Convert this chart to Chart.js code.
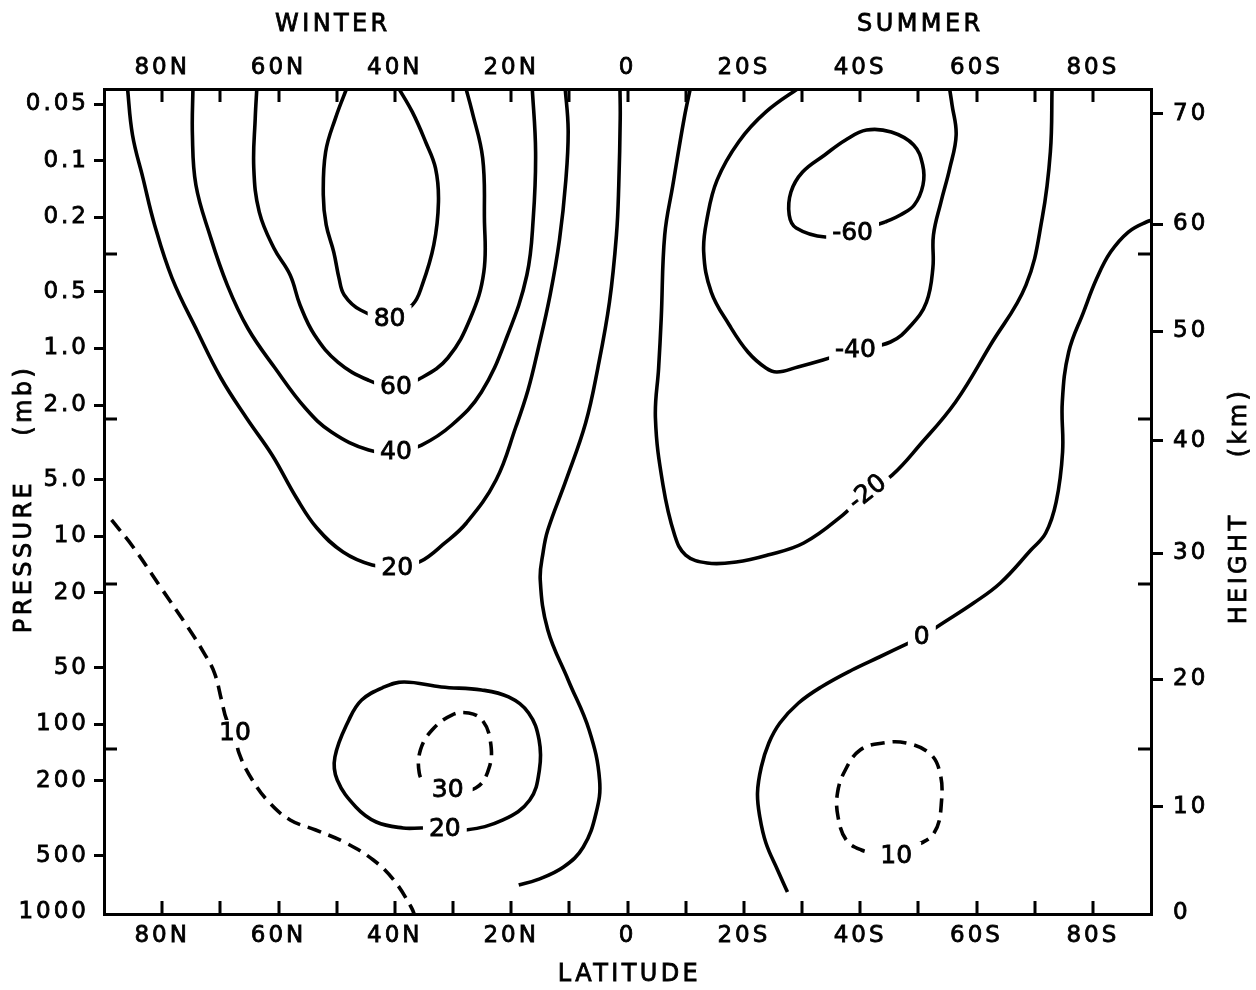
<!DOCTYPE html>
<html lang="en">
<head>
<meta charset="utf-8">
<title>Zonal mean wind: latitude–height section</title>
<script src="https://cdn.jsdelivr.net/npm/chart.js@4.4.1/dist/chart.umd.min.js"></script>
<style>
  html, body { margin: 0; padding: 0; background: #fff; }
  canvas { display: block; }
</style>
</head>
<body>
<canvas id="chart" width="1256" height="990"></canvas>
<script>
// ---- axis ticks ----
const latTicks = [80, 60, 40, 20, 0, -20, -40, -60, -80];
const latTickLabels = ['80N', '60N', '40N', '20N', '0', '20S', '40S', '60S', '80S'];
const latMinorTicks = [80, 70, 60, 50, 40, 30, 20, 10, 0, -10, -20, -30, -40, -50, -60, -70, -80];
const pressureTicks = [0.05, 0.1, 0.2, 0.5, 1, 2, 5, 10, 20, 50, 100, 200, 500, 1000];
const pressureTickLabels = ['0.05', '0.1', '0.2', '0.5', '1.0', '2.0', '5.0', '10', '20', '50', '100', '200', '500', '1000'];
const heightKm = [0, 10, 20, 30, 40, 50, 60, 70];
const heightPressure = [1013, 275, 57.5, 12.3, 3.10, 0.81, 0.218, 0.0565];
const seasonNames = ['WINTER', 'SUMMER'];
const seasonLat = [51, -50];

// ---- isotachs of zonal wind (m/s); points are [latitude (N > 0), pressure (mb)] ----
const winter80 = [[48.1,0.04],[50.2,0.0594],[51.9,0.090],[52.3,0.1525],[51.8,0.220],[50.5,0.307],[49.6,0.422],[48.7,0.519],[45.9,0.624],[40.9,0.689],[37.0,0.587],[35.3,0.460],[33.3,0.281],[32.5,0.166],[33.0,0.110],[34.7,0.0796],[37.0,0.0551],[39.6,0.04]];
const winter60 = [[63.7,0.04],[64.0,0.0594],[64.25,0.1096],[63.3,0.188],[60.8,0.292],[58.0,0.4065],[56.3,0.587],[53.8,0.848],[49.8,1.181],[44.6,1.472],[39.8,1.603],[35.5,1.436],[30.9,1.124],[27.0,0.689],[24.7,0.392],[24.6,0.202],[24.9,0.0969],[26.7,0.0551],[27.9,0.04]];
const winter40 = [[74.7,0.04],[74.8,0.0731],[74.2,0.135],[71.8,0.249],[68.8,0.460],[65.3,0.778],[60.6,1.271],[55.4,2.075],[50.9,2.783],[44.5,3.47],[39.8,3.556],[35.4,3.265],[30.2,2.555],[25.1,1.705],[20.6,0.848],[17.3,0.4065],[16.2,0.202],[15.8,0.090],[16.4,0.04]];
const winter20 = [[86.0,0.04],[85.1,0.0731],[83.3,0.124],[81.3,0.220],[78.3,0.422],[73.9,0.817],[69.9,1.436],[65.5,2.345],[61.1,3.69],[56.9,6.25],[53.4,9.03],[48.9,12.11],[43.9,14.2],[39.6,14.56],[35.6,13.6],[31.5,10.9],[27.7,8.49],[22.6,5.01],[19.2,2.618],[17.1,1.664],[15.4,1.019],[13.3,0.519],[11.7,0.265],[10.6,0.127],[10.2,0.0688],[10.75,0.04]];
const zeroNorth = [[1.3,0.04],[1.25,0.0594],[1.5,0.135],[1.9,0.249],[3.1,0.566],[5.1,1.271],[7.2,2.493],[10.55,5.01],[13.7,9.25],[14.5,12.11],[15.0,17.07],[13.7,31.5],[10.2,58.1],[6.6,107.3],[4.8,198],[5.4,296.8],[7.6,450],[11.0,575],[15.6,674],[18.7,717]];
const lowJet20 = [[31.4,356.6],[27.8,365.5],[21.4,323.2],[16.8,253],[15.15,175.2],[15.2,121.2],[17.0,87.1],[20.45,71.6],[25.1,65.7],[32.0,63.3],[38.4,59.6],[41.8,63.3],[45.7,74.3],[47.9,94.9],[50.3,149.4],[49.9,198],[46.7,275.6],[43.2,331.3],[38.6,356.6],[35.5,356.6],[31.4,356.6]];
const lowJet30 = [[30.9,223.8],[26.1,218.4],[23.75,168.9],[23.6,121.2],[25.0,94.9],[27.3,87.1],[30.2,89.3],[33.6,107.3],[35.6,137.1],[35.8,181.7],[34.7,205.4],[30.9,223.8]];
const polar10 = [[88.7,8.18],[85.0,11.39],[80.3,18.6],[75.6,30.4],[72.8,41.8],[71.0,53.4],[69.8,74.3],[68.9,94.9],[67.5,111.3],[66.8,142.2],[64.5,198],[61.5,262.5],[58.0,323.2],[53.6,365.5],[48.4,428.5],[43.7,527.8],[40.2,674],[37.2,939],[36.5,1060]];
const summerMinus20 = [[-10.9,0.04],[-9.75,0.0594],[-7.8,0.135],[-6.4,0.249],[-5.8,0.689],[-5.35,1.271],[-4.8,2.345],[-6.1,5.33],[-8.1,9.83],[-10.0,12.57],[-13.7,13.86],[-18.7,13.69],[-24.1,12.57],[-30.3,10.85],[-37.0,7.70],[-41.2,5.81],[-45.5,4.72],[-50.25,3.265],[-56.4,1.927],[-62.4,0.958],[-68.5,0.460],[-71.3,0.202],[-72.7,0.090],[-73.0,0.04]];
const summerMinus40 = [[-30.0,0.04],[-23.8,0.0551],[-19.1,0.0796],[-15.4,0.127],[-13.7,0.202],[-13.1,0.307],[-14.4,0.501],[-17.5,0.750],[-20.7,1.044],[-23.8,1.271],[-25.7,1.335],[-29.3,1.255],[-33.6,1.152],[-39.2,1.019],[-45.2,0.924],[-48.8,0.750],[-51.4,0.566],[-52.5,0.373],[-52.6,0.249],[-53.9,0.166],[-55.4,0.110],[-56.5,0.0731],[-55.8,0.0506],[-55.3,0.04]];
const summerMinus60 = [[-44.3,0.2123],[-46.9,0.1949],[-49.3,0.1724],[-50.8,0.1349],[-50.75,0.1056],[-49.2,0.0826],[-45.35,0.0705],[-41.1,0.0688],[-37.5,0.0777],[-33.9,0.0934],[-30.1,0.1151],[-28.1,0.147],[-27.8,0.1949],[-29.0,0.2285],[-34.0,0.255],[-38.7,0.240],[-44.3,0.2123]];
const zeroSouth = [[-91,0.205],[-89.2,0.2123],[-86.1,0.240],[-83.05,0.307],[-80.7,0.422],[-78.4,0.640],[-75.85,1.044],[-74.75,1.927],[-74.8,3.556],[-73.7,6.56],[-71.9,9.60],[-69.35,11.82],[-64.1,17.71],[-59.5,22.63],[-53.7,29.63],[-50.6,34.31],[-48.4,36.94],[-43.3,43.86],[-38.6,51.43],[-33.3,63.33],[-29.4,77.09],[-26.2,98.5],[-24.3,125.8],[-23.0,168.9],[-22.35,232.2],[-22.75,311.6],[-23.8,428.5],[-25.8,596.5],[-27.5,781]];
const summer10 = [[-46.2,496.5],[-48.8,455.5],[-52.7,379],[-54.0,253],[-53.6,175.2],[-51.85,142.2],[-47.9,125.8],[-43.9,125.8],[-40.0,137.1],[-37.45,175.2],[-36.1,232.2],[-36.2,311.6],[-37.6,412.9],[-40.2,467],[-42.9,484.4],[-46.2,496.5]];

// isotach value, its line, and where its value is written
const isotachs = [
  { value: 80,  pts: winter80,      label: [40.9, 0.689] },
  { value: 60,  pts: winter60,      label: [39.8, 1.603] },
  { value: 40,  pts: winter40,      label: [39.8, 3.556] },
  { value: 20,  pts: winter20,      label: [39.6, 14.56] },
  { value: 0,   pts: zeroNorth,     label: null },
  { value: 20,  pts: lowJet20,      label: [31.4, 356.6] },
  { value: 30,  pts: lowJet30,      label: [30.9, 223.8] },
  { value: 10,  pts: polar10,       label: [67.5, 111.3] },
  { value: -20, pts: summerMinus20, label: [-41.2, 5.81], angle: -38 },
  { value: -40, pts: summerMinus40, label: [-39.2, 1.019] },
  { value: -60, pts: summerMinus60, label: [-38.7, 0.240] },
  { value: 0,   pts: zeroSouth,     label: [-50.6, 34.31] },
  { value: 10,  pts: summer10,      label: [-46.2, 496.5] }
];

const FONT = '"DejaVu Sans", "Liberation Sans", sans-serif';
const INK = '#000';
const TEXT_STROKE = 0.8;

// odd multiples of ten are drawn dashed
const isDashed = v => v % 20 !== 0;

const datasets = isotachs.map(c => ({
  data: c.pts.map(([lat, p]) => ({ x: lat, y: p })),
  showLine: true,
  pointRadius: 0,
  borderColor: INK,
  borderWidth: 3.6,
  borderDash: isDashed(c.value) ? [14, 8] : [],
  borderCapStyle: 'butt',
  tension: 0.4,
  capBezierPoints: false,
  fill: false,
  clip: 0
}));

const spacedText = {
  id: 'spacedText',
  beforeDraw(chart) { chart.ctx.letterSpacing = '3px'; }
};

const frameTicks = {
  id: 'frameTicks',
  afterDatasetsDraw(chart) {
    const { ctx, chartArea: a, scales } = chart;
    ctx.save();
    ctx.strokeStyle = INK;
    ctx.lineWidth = 3;
    ctx.beginPath();
    latMinorTicks.forEach(lat => {
      const x = Math.round(scales.x.getPixelForValue(lat));
      ctx.moveTo(x, a.bottom); ctx.lineTo(x, a.bottom - 13);
      ctx.moveTo(x, a.top); ctx.lineTo(x, a.top + 13);
    });
    for (let k = 1; k < 5; k++) {
      const y = Math.round(a.top + (a.bottom - a.top) * k / 5);
      ctx.moveTo(a.left, y); ctx.lineTo(a.left + 13, y);
      ctx.moveTo(a.right, y); ctx.lineTo(a.right - 13, y);
    }
    ctx.stroke();
    ctx.restore();
  }
};

function inkText(ctx, text, x, y) {
  ctx.fillText(text, x, y);
  ctx.strokeText(text, x, y);
}

const isotachLabels = {
  id: 'isotachLabels',
  afterDatasetsDraw(chart) {
    const { ctx, scales: { x, y } } = chart;
    ctx.save();
    ctx.letterSpacing = '0px';
    ctx.font = '25px ' + FONT;
    ctx.textAlign = 'center';
    ctx.textBaseline = 'middle';
    ctx.lineWidth = TEXT_STROKE;
    ctx.strokeStyle = INK;
    isotachs.forEach(c => {
      if (!c.label) return;
      const px = x.getPixelForValue(c.label[0]);
      const py = y.getPixelForValue(c.label[1]);
      const text = c.value < 0 ? '-' + Math.abs(c.value) : String(c.value);
      const w = ctx.measureText(text).width + (isDashed(c.value) ? 18 : 12);
      ctx.save();
      ctx.translate(px, py);
      ctx.rotate((c.angle || 0) * Math.PI / 180);
      ctx.fillStyle = '#fff';
      ctx.fillRect(-w / 2, -13, w, 26);
      ctx.fillStyle = INK;
      inkText(ctx, text, 0, 1);
      ctx.restore();
    });
    ctx.restore();
  }
};

const axisTitles = {
  id: 'axisTitles',
  afterDraw(chart) {
    const { ctx, chartArea: a, scales: { x } } = chart;
    ctx.save();
    ctx.letterSpacing = '3.4px';
    ctx.font = '24px ' + FONT;
    ctx.fillStyle = INK;
    ctx.strokeStyle = INK;
    ctx.lineWidth = TEXT_STROKE;
    ctx.textAlign = 'center';
    ctx.textBaseline = 'middle';
    seasonNames.forEach((name, i) => inkText(ctx, name, x.getPixelForValue(seasonLat[i]) + 2, 25));
    inkText(ctx, 'LATITUDE', (a.left + a.right) / 2 + 2, 975);
    ctx.save();
    ctx.translate(25, 499);
    ctx.rotate(-Math.PI / 2);
    inkText(ctx, 'PRESSURE    (mb)', 0, 0);
    ctx.restore();
    ctx.save();
    ctx.translate(1240, 506);
    ctx.rotate(-Math.PI / 2);
    inkText(ctx, 'HEIGHT     (km)', 0, 0);
    ctx.restore();
    ctx.restore();
  }
};

const tickFont = { family: FONT, size: 23 };
const border = { display: true, color: INK, width: 3 };

function latAxis(position, height, pad) {
  return {
    type: 'linear', position, min: -90, max: 90, reverse: true, bounds: 'data',
    border,
    grid: { display: false, drawTicks: false },
    afterBuildTicks: s => { s.ticks = latTicks.map(v => ({ value: v })); },
    afterFit: s => { s.height = height; },
    ticks: {
      autoSkip: false, maxRotation: 0, padding: pad, color: INK, font: tickFont,
      textStrokeColor: INK, textStrokeWidth: TEXT_STROKE,
      callback: v => latTickLabels[latTicks.indexOf(v)]
    }
  };
}

function pressureAxis(position, width, values, labels, hidden, tickLen, pad) {
  return {
    type: 'logarithmic', position, min: 0.0416, max: 1023, reverse: true, bounds: 'data',
    border,
    grid: {
      display: true, drawOnChartArea: false, drawTicks: true, tickLength: tickLen, lineWidth: 3,
      color: INK,
      tickColor: ctx => (ctx.tick && ctx.tick.value === hidden) ? 'rgba(0,0,0,0)' : INK
    },
    afterBuildTicks: s => { s.ticks = values.map(v => ({ value: v })); },
    afterFit: s => { s.width = width; },
    ticks: {
      autoSkip: false, padding: pad, color: INK, font: tickFont,
      textStrokeColor: INK, textStrokeWidth: TEXT_STROKE,
      callback: (v, i) => labels[i]
    }
  };
}

new Chart(document.getElementById('chart'), {
  type: 'scatter',
  data: { datasets },
  options: {
    responsive: false,
    animation: false,
    events: [],
    layout: { padding: 0 },
    plugins: { legend: { display: false }, tooltip: { enabled: false } },
    scales: {
      x: latAxis('bottom', 76, 8),
      x2: latAxis('top', 89, 7),
      y: pressureAxis('left', 104, pressureTicks, pressureTickLabels, 1000, 10, 5),
      y2: pressureAxis('right', 105, heightPressure, heightKm.map(String), 1013, 12, 10)
    }
  },
  plugins: [spacedText, frameTicks, isotachLabels, axisTitles]
});
</script>
</body>
</html>
